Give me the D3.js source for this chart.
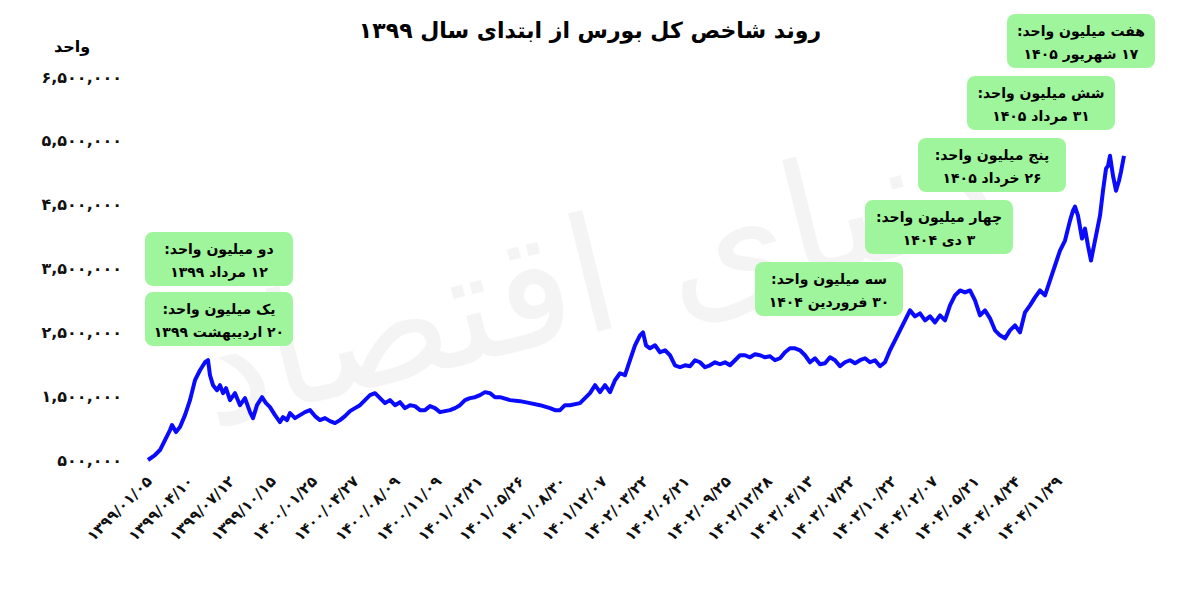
<!DOCTYPE html>
<html><head><meta charset="utf-8">
<script src="https://cdn.jsdelivr.net/npm/d3@7"></script>
<style>body{margin:0;background:#fff}text{font-family:"DejaVu Sans",sans-serif;font-weight:bold}</style>
</head><body><svg id="drawing_region"></svg>
<script>
const days = [0,7,12,17,22,24,28,32,37,42,47,52,57,60,62,65,69,72,75,78,82,87,92,97,102,105,109,114,118,122,127,132,135,139,142,147,152,157,162,167,172,177,182,187,192,197,202,207,212,217,222,227,232,237,242,247,252,257,262,267,272,277,282,287,292,297,302,307,312,317,322,327,332,337,342,347,352,362,372,382,392,402,407,412,417,422,432,442,447,452,457,462,467,472,477,482,487,492,495,498,502,507,512,517,522,527,532,537,542,547,552,557,562,567,572,577,582,587,592,597,602,607,612,617,622,627,632,637,642,647,652,657,662,667,672,677,682,687,692,697,702,707,712,717,722,727,732,737,742,747,752,757,762,767,772,777,782,787,792,797,802,807,812,817,822,827,832,837,842,847,852,857,862,867,872,877,882,887,892,897,902,907,912,917,922,925,927,930,934,937,940,943,947,952,955,958,960,962,965,968,971,973,976];
const values = [500,578,656,813,969,1047,938,1016,1203,1438,1750,1906,2031,2063,1828,1672,1594,1672,1547,1625,1438,1547,1359,1469,1250,1156,1359,1484,1391,1328,1203,1094,1172,1125,1234,1156,1203,1250,1281,1188,1125,1156,1109,1078,1125,1188,1266,1313,1359,1438,1516,1547,1469,1391,1438,1359,1406,1313,1359,1344,1281,1281,1344,1313,1250,1266,1281,1313,1359,1438,1469,1484,1516,1563,1547,1484,1484,1438,1422,1391,1359,1313,1281,1281,1359,1359,1391,1547,1672,1563,1672,1563,1750,1859,1828,2063,2297,2453,2500,2297,2250,2297,2188,2219,2141,1984,1953,1984,1969,2063,2031,1953,1984,2031,2000,2031,1984,2063,2141,2141,2109,2156,2141,2109,2125,2063,2094,2188,2250,2250,2219,2141,2031,2094,2000,2016,2109,2063,1969,2031,2063,2016,2063,2094,2031,2063,1969,2031,2219,2375,2531,2688,2844,2750,2797,2688,2750,2656,2766,2688,2922,3078,3156,3125,3156,3000,2766,2844,2719,2531,2453,2406,2531,2609,2500,2813,2922,3047,3156,3078,3313,3547,3781,3938,4250,4406,4469,4328,3969,4125,3859,3625,3938,4328,4719,5063,5109,5266,4953,4719,4875,5016,5266].map(v => v * 1000);
const yTicks = [500000,1500000,2500000,3500000,4500000,5500000,6500000];
const xLabels = ["۱۳۹۹/۰۱/۰۵","۱۳۹۹/۰۴/۱۰","۱۳۹۹/۰۷/۱۲","۱۳۹۹/۱۰/۱۵","۱۴۰۰/۰۱/۲۵","۱۴۰۰/۰۴/۲۷","۱۴۰۰/۰۸/۰۹","۱۴۰۰/۱۱/۰۹","۱۴۰۱/۰۲/۲۱","۱۴۰۱/۰۵/۲۶","۱۴۰۱/۰۸/۳۰","۱۴۰۱/۱۲/۰۷","۱۴۰۲/۰۳/۲۲","۱۴۰۲/۰۶/۲۱","۱۴۰۲/۰۹/۲۵","۱۴۰۲/۱۲/۲۸","۱۴۰۳/۰۴/۱۳","۱۴۰۳/۰۷/۲۲","۱۴۰۳/۱۰/۲۲","۱۴۰۴/۰۲/۰۷","۱۴۰۴/۰۵/۲۱","۱۴۰۴/۰۸/۲۴","۱۴۰۴/۱۱/۲۹"];
const notes = [
  {t1:"دو میلیون واحد:", t2:"۱۲ مرداد ۱۳۹۹", x:145, y:232},
  {t1:"یک میلیون واحد:", t2:"۲۰ اردیبهشت ۱۳۹۹", x:145, y:292},
  {t1:"سه میلیون واحد:", t2:"۳۰ فروردین ۱۴۰۴", x:755, y:262},
  {t1:"چهار میلیون واحد:", t2:"۳ دی ۱۴۰۴", x:865, y:200},
  {t1:"پنج میلیون واحد:", t2:"۲۶ خرداد ۱۴۰۵", x:918, y:138},
  {t1:"شش میلیون واحد:", t2:"۳۱ مرداد ۱۴۰۵", x:967, y:76},
  {t1:"هفت میلیون واحد:", t2:"۱۷ شهریور ۱۴۰۵", x:1007, y:14}
];
const fa = n => d3.format(",")(n).replace(/\d/g, c => "۰۱۲۳۴۵۶۷۸۹"[c]);

const svg = d3.select('#drawing_region').attr('width', 1200).attr('height', 594);

svg.append('text').attr('x', 600).attr('y', 330).attr('text-anchor', 'middle')
  .attr('transform', 'rotate(-14,600,300)').attr('direction', 'rtl')
  .style('font-size', '160px').style('font-weight', 'normal').attr('fill', '#f4f4f4')
  .text('دنیای اقتصاد');

const xscale = d3.scaleLinear().domain([0, d3.max(days)]).range([148, 1124]);
const yscale = d3.scaleLinear().domain([500000, 6500000]).range([460, 77]);
const xband = d3.scalePoint().domain(xLabels).range([150, 1060]);

svg.append('text').attr('x', 590).attr('y', 38).attr('text-anchor', 'middle').attr('direction', 'rtl')
  .style('font-size', '22px').text('روند شاخص کل بورس از ابتدای سال ۱۳۹۹');
svg.append('text').attr('x', 72).attr('y', 52).attr('text-anchor', 'middle')
  .style('font-size', '16px').text('واحد');

const yaxis = svg.append('g').attr('transform', 'translate(122,0)')
  .call(d3.axisLeft(yscale).tickValues(yTicks).tickFormat(fa).tickSize(0).tickPadding(0));
yaxis.select('.domain').remove();
yaxis.selectAll('text').style('font-size', '16px').style('font-family', '"DejaVu Sans"').attr('fill', '#111');

const xaxis = svg.append('g').attr('transform', 'translate(0,470)')
  .call(d3.axisBottom(xband).tickSize(0).tickPadding(0));
xaxis.select('.domain').remove();
xaxis.selectAll('text').style('font-size', '15px').style('font-family', '"DejaVu Sans"').attr('fill', '#111')
  .attr('text-anchor', 'end').attr('dy', '0.6em').attr('transform', 'translate(-4,6) rotate(-45)');

const line = d3.line().x((d, i) => xscale(days[i])).y(d => yscale(d));
svg.append('path').attr('d', line(values)).attr('stroke', '#0a0aff').attr('stroke-width', 4)
  .attr('stroke-linejoin', 'round').attr('fill', 'none');

const g = svg.selectAll('.note').data(notes).join('g').attr('transform', d => `translate(${d.x},${d.y})`);
g.append('rect').attr('width', 148).attr('height', 54).attr('rx', 8).attr('fill', '#9ff59c');
g.append('text').attr('x', 74).attr('y', 22).attr('text-anchor', 'middle').attr('direction', 'rtl').style('font-size', '14px').text(d => d.t1);
g.append('text').attr('x', 74).attr('y', 45).attr('text-anchor', 'middle').attr('direction', 'rtl').style('font-size', '14px').text(d => d.t2);
</script></body></html>
